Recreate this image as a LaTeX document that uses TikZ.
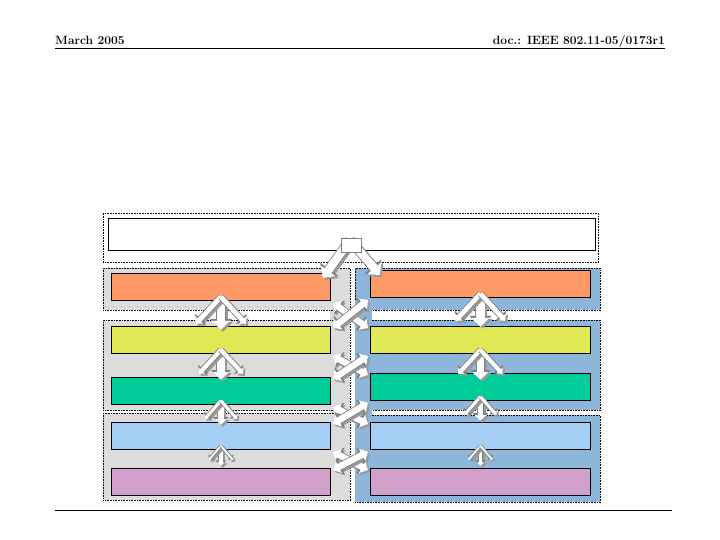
\documentclass[tikz,border=0pt]{standalone}
\usetikzlibrary{arrows.meta,calc}
\definecolor{cOr}{HTML}{FF9966}\definecolor{cYe}{HTML}{E0E855}\definecolor{cGr}{HTML}{00CC99}
\definecolor{cLb}{HTML}{A6CFF5}\definecolor{cPk}{HTML}{D1A0CA}\definecolor{cBl}{HTML}{8DB6DA}
\definecolor{cGy}{HTML}{DCDCDC}\definecolor{cSh}{HTML}{999999}
\newcommand{\fatarr}[3]{%
 \draw[cSh,line width=#3+1pt,-{Triangle[length=#3*1.1,width=#3*2.2]}] ([shift={(2,2)}]#1) -- ([shift={(2,2)}]#2);
 \draw[gray,line width=#3+1pt,-{Triangle[length=#3*1.1+1pt,width=#3*2.2+2pt]}] (#1) -- (#2);
 \draw[white,line width=#3-0.6pt,-{Triangle[length=#3*1.1-1pt,width=#3*2.2-2pt]}] (#1) -- (#2);}
\newcommand{\fatdbl}[3]{%
 \draw[cSh,line width=#3+1pt,{Triangle[length=#3*1.1,width=#3*2.2]}-{Triangle[length=#3*1.1,width=#3*2.2]}] ([shift={(2,2)}]#1) -- ([shift={(2,2)}]#2);
 \draw[gray,line width=#3+1pt,{Triangle[length=#3*1.1+1pt,width=#3*2.2+2pt]}-{Triangle[length=#3*1.1+1pt,width=#3*2.2+2pt]}] (#1) -- (#2);
 \draw[white,line width=#3-0.6pt,{Triangle[length=#3*1.1-1pt,width=#3*2.2-2pt]}-{Triangle[length=#3*1.1-1pt,width=#3*2.2-2pt]}] (#1) -- (#2);}
\begin{document}
\begin{tikzpicture}[x=1pt,y=-1pt,
 bar/.style={draw=black,line width=0.8pt},
 grp/.style={draw=black,densely dotted,line width=0.6pt},
 hdr/.style={font=\bfseries\fontsize{12}{14}\selectfont,inner sep=0pt}]
\useasboundingbox (0,0) rectangle (720,540);
\node[hdr,anchor=base west] (d) at (55,45) {March 2005};
\node[hdr,anchor=base east] (doc) at (665,45) {doc.: IEEE 802.11-05/0173r1};
\draw[line width=0.6pt] (55,48) -- (665,48);
\draw[line width=0.6pt] (55,510) -- (672,510);
% top box
\node[grp,fill=white,minimum width=495,minimum height=49,anchor=north west,inner sep=0] (top) at (103,213) {};
\node[bar,fill=white,minimum width=487,minimum height=32,anchor=north west,inner sep=0] (topin) at (108,218) {};
% grey column groups
\fill[cGy] (103,268) rectangle (350,310);
\fill[cGy] (103,320) rectangle (350,410);
\fill[cGy] (103,413) rectangle (350,500);
\fill[cGy] (330,310) rectangle (350,413);
\node[grp,minimum width=247,minimum height=42,anchor=north west,inner sep=0] (g1) at (103,268) {};
\node[grp,minimum width=247,minimum height=90,anchor=north west,inner sep=0] (g2) at (103,320) {};
\node[grp,minimum width=247,minimum height=87,anchor=north west,inner sep=0] (g3) at (103,413) {};
% blue groups
\node[grp,fill=cBl,minimum width=245,minimum height=42,anchor=north west,inner sep=0] (b1) at (355,268) {};
\node[grp,fill=cBl,minimum width=245,minimum height=90,anchor=north west,inner sep=0] (b2) at (355,320) {};
\node[grp,fill=cBl,minimum width=245,minimum height=87,anchor=north west,inner sep=0] (b3) at (355,415) {};
\fill[cBl] (355,300) rectangle (372,502);
% bars
\foreach \n/\c/\yl/\yr in {or/cOr/273/270, ye/cYe/326/326, gr/cGr/377/373, lb/cLb/422/422, pk/cPk/468/468}{
 \node[bar,fill=\c,minimum width=219,minimum height=27,anchor=north west,inner sep=0] (L\n) at (111,\yl) {};
 \node[bar,fill=\c,minimum width=220,minimum height=27,anchor=north west,inner sep=0] (R\n) at (370,\yr) {};
}
% top split arrow
\coordinate (t0) at (350,240);
\fatarr{t0}{$(Lor.north east)+(-8,5)$}{9pt}
\fatarr{t0}{$(Ror.north west)+(10,5)$}{9pt}
\fill[white,draw=gray] (341,238) rectangle (361,252);
% three-prong arrows
\foreach \s/\w/\d in {or/9/25, ye/8/22, gr/6/16, lb/4/12}{
 \foreach \sd in {L,R}{
  \coordinate (a0) at ($(\sd\s.south)+(0,-4)$);
  \fatarr{a0}{$(a0)+(0,\d+8)$}{\w pt}
  \fatarr{a0}{$(a0)+(-\d,\d+2)$}{\w pt*0.6}
  \fatarr{a0}{$(a0)+(\d,\d+2)$}{\w pt*0.6}
 }
}
% crosses
\foreach \a/\b in {or/ye, ye/gr, gr/lb, lb/pk}{
 \fatdbl{$(L\a.south east)+(2,2)$}{$(R\b.north west)+(-2,2)$}{7pt}
 \fatdbl{$(R\a.south west)+(-2,2)$}{$(L\b.north east)+(2,2)$}{7pt}
}
\end{tikzpicture}
\end{document}
